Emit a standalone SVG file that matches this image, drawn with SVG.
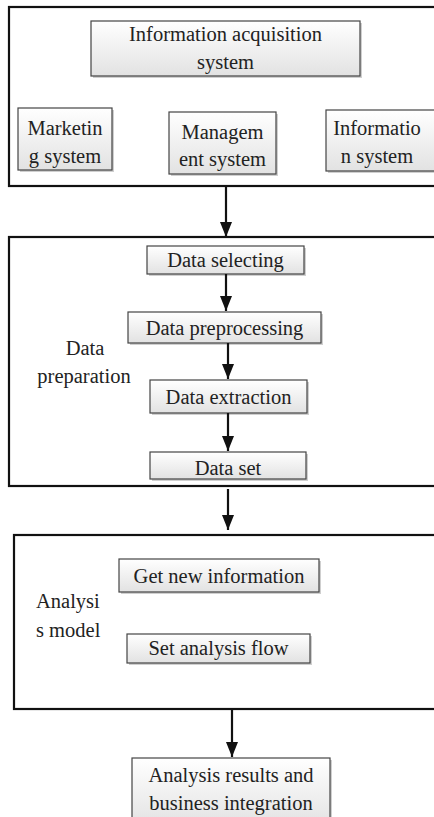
<svg xmlns="http://www.w3.org/2000/svg" width="434" height="817" viewBox="0 0 434 817">
<defs>
<linearGradient id="g" x1="0" y1="0" x2="0" y2="1">
<stop offset="0" stop-color="#ffffff"/>
<stop offset="1" stop-color="#e2e2e2"/>
</linearGradient>
<marker id="ah" markerWidth="15" markerHeight="12" refX="15" refY="6" orient="auto" markerUnits="userSpaceOnUse" viewBox="0 0 15 12">
<path d="M0,0 L15,6 L0,12 Z" fill="#111"/>
</marker>
</defs>
<style>
.outer{fill:#fff;stroke:#111;stroke-width:2.2}
.box{fill:url(#g);stroke:#444;stroke-width:1.2}
.sh{fill:#cfcfcf}
text{font-family:"Liberation Serif","Times New Roman",serif;font-size:20.5px;fill:#222;text-anchor:middle}
.lbl{text-anchor:start}
.conn line{stroke:#111;stroke-width:2.2;marker-end:url(#ah)}
</style>
<rect width="434" height="817" fill="#fff"/>

<g id="group-acquisition">
<rect class="outer" x="9" y="7" width="440" height="179"/>
</g>
<g id="info-acq">
<rect class="sh" x="93" y="23" width="269" height="55"/>
<rect class="box" x="91" y="21" width="269" height="55"/>
<text x="225.5" y="41">Information acquisition</text>
<text x="225.5" y="69">system</text>
</g>
<g id="marketing">
<rect class="sh" x="20" y="110" width="94" height="62"/>
<rect class="box" x="18" y="108" width="94" height="62"/>
<text x="65" y="135">Marketin</text>
<text x="65" y="163">g system</text>
</g>
<g id="management">
<rect class="sh" x="171" y="114" width="107" height="62"/>
<rect class="box" x="169" y="112" width="107" height="62"/>
<text x="222.5" y="139">Managem</text>
<text x="222.5" y="166">ent system</text>
</g>
<g id="information">
<rect class="sh" x="328" y="112" width="110" height="61"/>
<rect class="box" x="326" y="110" width="110" height="61"/>
<text x="377" y="135">Informatio</text>
<text x="377" y="163">n system</text>
</g>

<g id="group-preparation">
<rect class="outer" x="9" y="237" width="440" height="249"/>
<text x="85" y="355">Data</text>
<text x="84" y="383">preparation</text>
</g>
<g id="data-selecting">
<rect class="sh" x="149" y="248" width="157" height="28"/>
<rect class="box" x="147" y="246" width="157" height="28"/>
<text x="225.5" y="267">Data selecting</text>
</g>
<g id="data-preprocessing">
<rect class="sh" x="130" y="314" width="193" height="31"/>
<rect class="box" x="128" y="312" width="193" height="31"/>
<text x="224.5" y="335">Data preprocessing</text>
</g>
<g id="data-extraction">
<rect class="sh" x="152" y="382" width="157" height="33"/>
<rect class="box" x="150" y="380" width="157" height="33"/>
<text x="228.5" y="404">Data extraction</text>
</g>
<g id="data-set">
<rect class="sh" x="152" y="454" width="156" height="27"/>
<rect class="box" x="150" y="452" width="156" height="27"/>
<text x="228" y="475">Data set</text>
</g>

<g id="group-analysis">
<rect class="outer" x="14" y="535" width="440" height="174"/>
<text class="lbl" x="36" y="608">Analysi</text>
<text class="lbl" x="36" y="637">s model</text>
</g>
<g id="get-new-info">
<rect class="sh" x="121" y="561" width="200" height="33"/>
<rect class="box" x="119" y="559" width="200" height="33"/>
<text x="219" y="583">Get new information</text>
</g>
<g id="set-analysis-flow">
<rect class="sh" x="129" y="636" width="183" height="29"/>
<rect class="box" x="127" y="634" width="183" height="29"/>
<text x="218.5" y="655">Set analysis flow</text>
</g>

<g id="results">
<rect class="sh" x="134" y="760" width="198" height="70"/>
<rect class="box" x="132" y="758" width="198" height="70"/>
<text x="231" y="782">Analysis results and</text>
<text x="231" y="810">business integration</text>
</g>

<g id="connectors" class="conn">
<line x1="226" y1="187" x2="226" y2="237"/>
<line x1="226" y1="274" x2="226" y2="311"/>
<line x1="228" y1="343" x2="228" y2="379"/>
<line x1="228" y1="413" x2="228" y2="451"/>
<line x1="228" y1="489" x2="228" y2="530"/>
<line x1="232" y1="710" x2="232" y2="757"/>
</g>
</svg>
